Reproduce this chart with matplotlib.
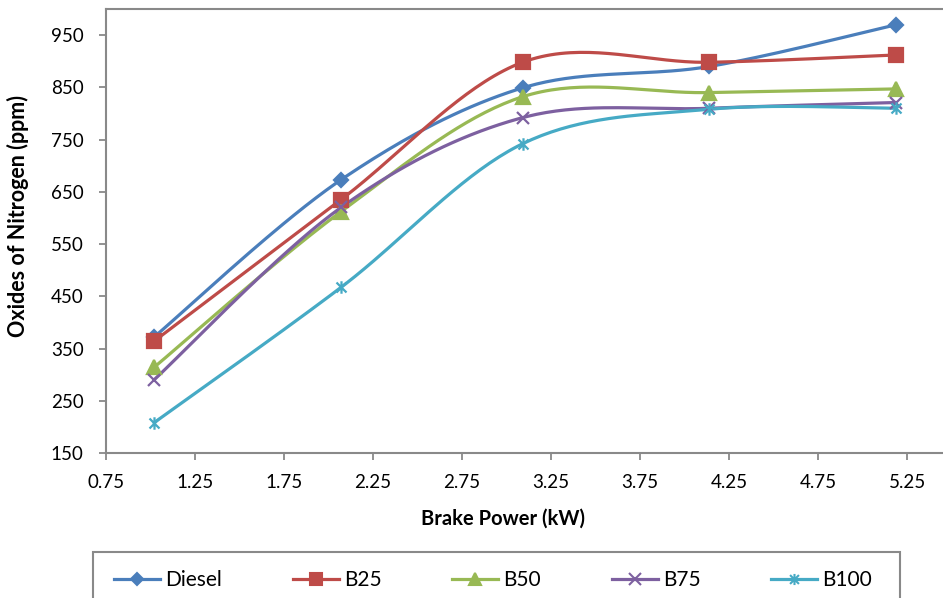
import numpy as np
import matplotlib
matplotlib.use("Agg")
import matplotlib.pyplot as plt
from matplotlib.lines import Line2D
from matplotlib.path import Path
from matplotlib.patches import Rectangle

plt.rcParams['font.family'] = ['Lato', 'DejaVu Sans']

# ---- data ----
brake_power = [1.02, 2.07, 3.09, 4.14, 5.19]
diesel = [372, 673, 849, 890, 970]
b25 = [364, 635, 898, 898, 912]
b50 = [314, 612, 832, 840, 847]
b75 = [290, 620, 792, 810, 821]
b100 = [208, 467, 742, 808, 810]
series_names = ["Diesel", "B25", "B50", "B75", "B100"]
x_ticks = [0.75, 1.25, 1.75, 2.25, 2.75, 3.25, 3.75, 4.25, 4.75, 5.25]
y_ticks = [150, 250, 350, 450, 550, 650, 750, 850, 950]

colors = ["#4A7EBB", "#BE4B48", "#98B954", "#7D60A0", "#46AAC5"]
star = Path([(-1, -1), (1, 1), (-1, 1), (1, -1), (0, -1.25), (0, 1.25)],
            [Path.MOVETO, Path.LINETO, Path.MOVETO, Path.LINETO, Path.MOVETO, Path.LINETO])
markers = ["D", "s", "^", "x", star]
msizes = [7.5, 9.5, 9.5, 9, 9]


def excel_smooth(x, y, n=40):
    x = np.asarray(x, float)
    y = np.asarray(y, float)
    px = np.concatenate([[x[0]], x, [x[-1]]])
    py = np.concatenate([[y[0]], y, [y[-1]]])
    xs, ys = [], []
    t = np.linspace(0, 1, n)
    for i in range(1, len(px) - 2):
        p0 = np.array([px[i], py[i]])
        p3 = np.array([px[i + 1], py[i + 1]])
        c1 = p0 + (np.array([px[i + 1], py[i + 1]]) - np.array([px[i - 1], py[i - 1]])) / 6
        c2 = p3 - (np.array([px[i + 2], py[i + 2]]) - np.array([px[i], py[i]])) / 6
        b = ((1 - t) ** 3)[:, None] * p0 + (3 * (1 - t) ** 2 * t)[:, None] * c1 \
            + (3 * (1 - t) * t ** 2)[:, None] * c2 + (t ** 3)[:, None] * p3
        xs.extend(b[:, 0])
        ys.extend(b[:, 1])
    return np.array(xs), np.array(ys)


fig = plt.figure(figsize=(9.43, 5.98), dpi=100)
ax = fig.add_axes([106 / 943, 1 - 453 / 598, 1 - 106 / 943, (453 - 9) / 598])

handles = []
for name, vals, c, m, ms in zip(series_names, [diesel, b25, b50, b75, b100], colors, markers, msizes):
    sx, sy = excel_smooth(brake_power, vals)
    ax.plot(sx, sy, color=c, lw=2.3, solid_capstyle='round', zorder=2)
    ax.plot(brake_power, vals, linestyle='none', marker=m, markersize=ms,
            color=c, markeredgecolor=c, markeredgewidth=1.6, zorder=3)
    handles.append(Line2D([], [], color=c, lw=2.3, marker=m, markersize=ms - 1,
                          markeredgecolor=c, markeredgewidth=1.5, label=name))

ax.set_xlim(0.75, 5.452)
ax.set_ylim(150, 1000)
ax.set_xticks(x_ticks)
ax.set_xticklabels([f"{v:.2f}" for v in x_ticks])
ax.set_yticks(y_ticks)
ax.set_yticklabels([str(v) for v in y_ticks])

for s in ['left', 'bottom', 'top']:
    ax.spines[s].set_color('#898989')
    ax.spines[s].set_linewidth(1.5)
ax.spines['right'].set_visible(False)
ax.tick_params(axis='both', direction='out', length=5, width=1.3, color='#898989',
               labelsize=13.5, labelcolor='black')
ax.tick_params(axis='x', pad=10)
ax.tick_params(axis='y', pad=11)

ax.set_xlabel("Brake Power (kW)", fontsize=14.5, fontweight='bold')
ax.set_ylabel("Oxides of Nitrogen (ppm)", fontsize=15.5, fontweight='bold')
ax.xaxis.set_label_coords((503 - 106) / 837, (453 - 519) / 444)
ax.xaxis.label.set_va('center')
ax.yaxis.set_label_coords((18 - 106) / 837, (453 - 216) / 444)
ax.yaxis.label.set_va('center')

# legend frame (extends below the cropped image)
fig.patches.append(Rectangle((93 / 943, -0.1), (900 - 93) / 943, 0.1 + (598 - 552) / 598,
                             transform=fig.transFigure, fill=False,
                             edgecolor='#898989', linewidth=1.5, clip_on=False))
fig.legend(handles=handles, loc='center left', bbox_to_anchor=(114 / 943, 1 - 580 / 598),
           ncol=5, frameon=False, fontsize=15, handlelength=2.2, handletextpad=0.25,
           columnspacing=3.4, borderpad=0, borderaxespad=0)

fig.savefig("out.png", dpi=100)
